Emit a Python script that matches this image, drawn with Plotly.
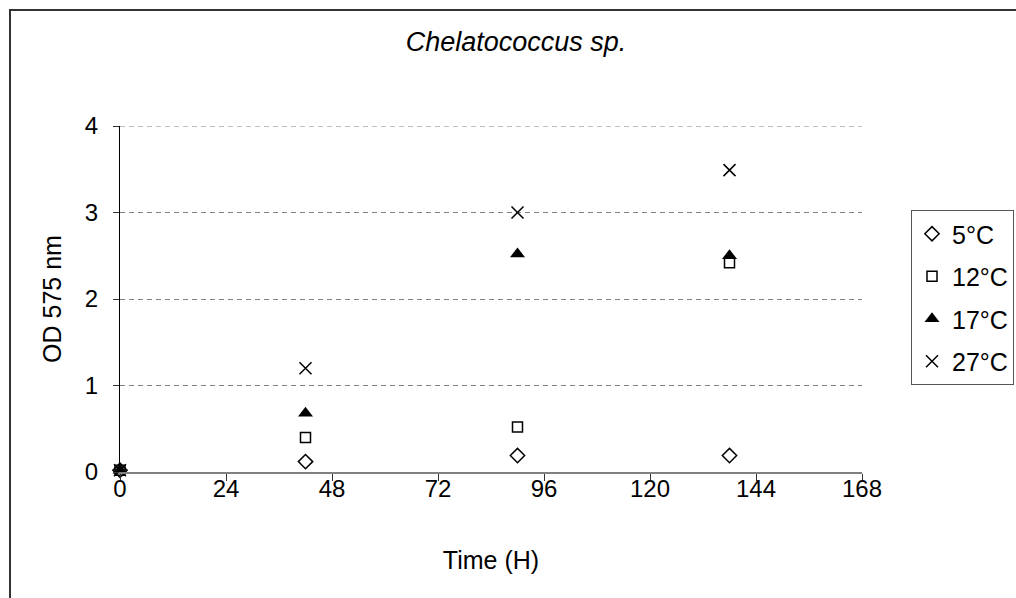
import plotly.graph_objects as go

time_h = [0, 42, 90, 138]
od_5c = [0.02, 0.12, 0.19, 0.19]
od_12c = [0.02, 0.40, 0.52, 2.42]
od_17c = [0.02, 0.68, 2.52, 2.50]
od_27c = [0.02, 1.20, 3.00, 3.49]
series_names = ["5°C", "12°C", "17°C", "27°C"]
x_ticks = [0, 24, 48, 72, 96, 120, 144, 168]
y_ticks = [0, 1, 2, 3, 4]

FONT = "Liberation Sans, Arial, sans-serif"

styles = [
    dict(symbol="diamond-open", size=11, color="black", line=dict(width=1.5, color="black")),
    dict(symbol="square-open", size=10, color="black", line=dict(width=1.5, color="black")),
    dict(symbol="triangle-up", size=13, color="black", line=dict(width=0, color="black")),
    dict(symbol="x-thin-open", size=12, color="black", line=dict(width=1.5, color="black")),
]

fig = go.Figure()
for i, (name, vals) in enumerate(zip(series_names, [od_5c, od_12c, od_17c, od_27c])):
    fig.add_trace(go.Scatter(
        x=time_h, y=vals, mode="markers", name=name,
        marker=styles[i], legendgroup=name, cliponaxis=False,
    ))

# figure slightly wider than the window so the legend can run off the right edge
W, H = 1040, 598
L, T, B = 120, 126, 126
R = W - 862
pw, ph = W - L - R, H - T - B

def px_x(p):
    return (p - L) / pw

def px_y(p):
    return (H - B - p) / ph

fig.update_layout(
    width=W, height=H,
    margin=dict(l=L, r=R, t=T, b=B),
    paper_bgcolor="white", plot_bgcolor="white",
    font=dict(family=FONT, size=24, color="black"),
    title=dict(text="<i>Chelatococcus sp.</i>", x=516 / W, xref="container", xanchor="center",
               y=1 - 42 / H, yref="container", yanchor="middle",
               font=dict(family=FONT, size=27, color="black")),
    showlegend=True,
    legend=dict(x=px_x(911), y=px_y(210), xanchor="left", yanchor="top",
                bordercolor="#555555", borderwidth=1, bgcolor="white",
                font=dict(family=FONT, size=25, color="black"),
                tracegroupgap=7, traceorder="grouped", itemwidth=30),
    xaxis=dict(range=[0, 168], tickvals=x_ticks, ticks="outside", ticklen=7,
               tickcolor="#333333", showline=True, linecolor="#808080", linewidth=1.5,
               showgrid=False, zeroline=False, ticklabelstandoff=-13,
               title=dict(text="Time (H)", font=dict(size=25), standoff=51),
               tickfont=dict(size=24)),
    yaxis=dict(range=[0, 4], tickvals=y_ticks, ticks="outside", ticklen=6,
               tickcolor="#333333", showline=True, linecolor="black", linewidth=1,
               showgrid=True, gridcolor="#808080", griddash="5px,4px", gridwidth=1,
               zeroline=False, ticklabelstandoff=10,
               title=dict(text="OD 575 nm", font=dict(size=25), standoff=16),
               tickfont=dict(size=24)),
)

fig.add_shape(type="line", xref="paper", yref="y", x0=0, x1=1, y0=y_ticks[-1], y1=y_ticks[-1],
              line=dict(color="#808080", width=1, dash="5px,4px"), layer="below")

fig.add_shape(type="rect", xref="paper", yref="paper",
              x0=px_x(10), x1=px_x(W + 10), y0=px_y(610), y1=px_y(10),
              line=dict(color="#333333", width=2), fillcolor="rgba(0,0,0,0)", layer="below")

fig.write_html("out.html", config={"displayModeBar": False},
               post_script="document.body.style.margin='0';document.body.style.overflow='hidden';")
